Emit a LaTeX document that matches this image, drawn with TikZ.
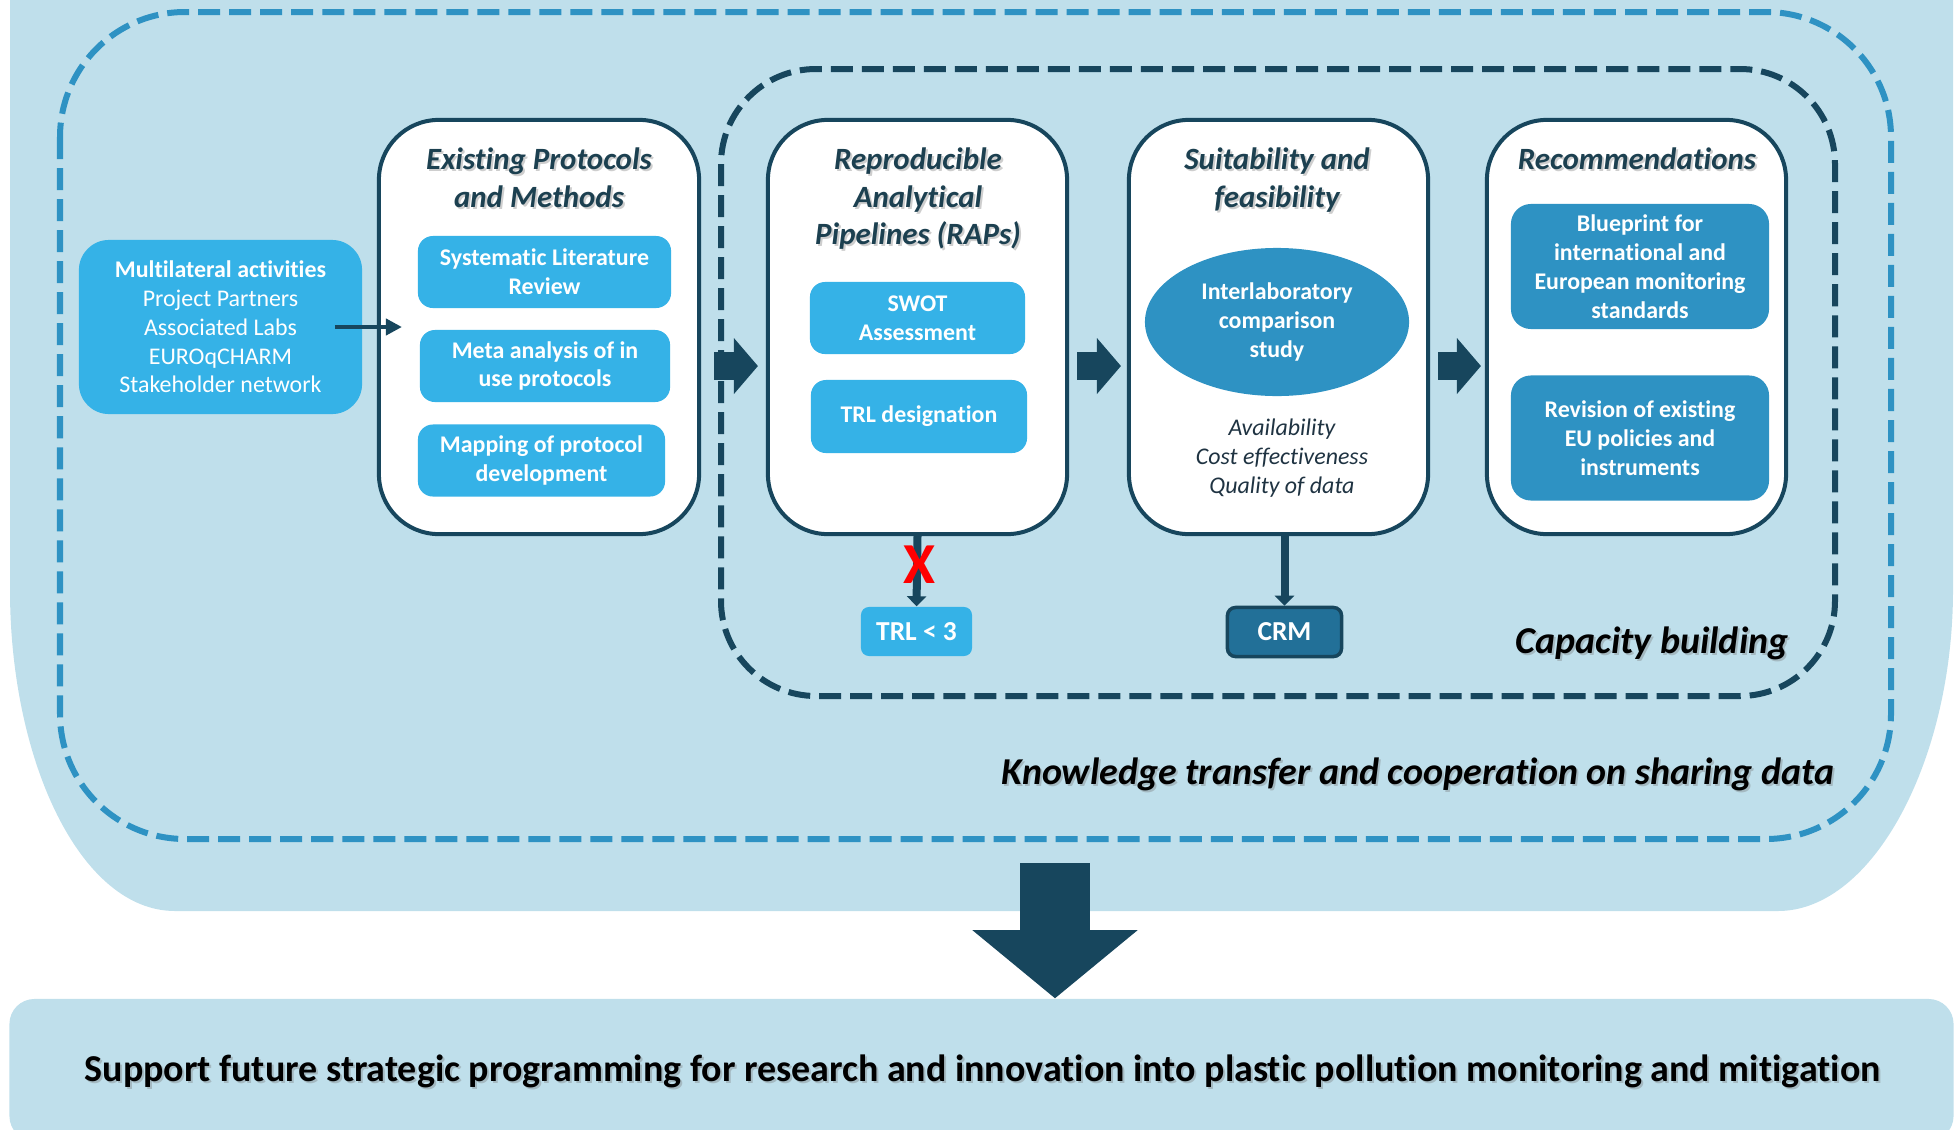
\documentclass[tikz,border=0pt]{standalone}
\usepackage{fontspec}
\setmainfont[Ligatures=NoCommon]{Carlito}
\usetikzlibrary{arrows.meta,shapes.geometric}

\definecolor{panel}{HTML}{BFDFEB}
\definecolor{lightbox}{HTML}{35B2E7}
\definecolor{midblue}{HTML}{2E92C3}
\definecolor{navy}{HTML}{17465D}
\definecolor{crmblue}{HTML}{227098}
\definecolor{headtext}{HTML}{1C4050}
\definecolor{notetext}{HTML}{1F3342}

\newcommand\stagefont{\fontsize{8.8}{10.7}\selectfont\bfseries\itshape}
\newcommand\itemfont{\fontsize{6.8}{8.2}\selectfont\bfseries}
\newcommand\notefont{\fontsize{6.8}{8.2}\selectfont\itshape}
\newcommand\zonefont{\fontsize{10.8}{13}\selectfont\bfseries\itshape}

% text with a soft grey drop shadow: [style]{name}{position}{text}
\newcommand\shadowed[4][]{%
  \node[#1, text=black!55, opacity=0.35, xshift=0.02cm, yshift=-0.02cm] (#2-shadow) at (#3) {#4};
  \node[#1] (#2) at (#3) {#4};}

\tikzset{
  stage/.style={draw=navy, line width=0.04cm, fill=white, rounded corners=0.6cm,
    minimum width=2.99cm, minimum height=4.14cm},
  stagetitle/.style={font=\stagefont, text=headtext, align=center, anchor=north, inner sep=0pt},
  item/.style={fill=lightbox, text=white, rounded corners=0.15cm, align=center,
    font=\itemfont, inner sep=0pt, minimum height=0.72cm},
  result/.style={fill=midblue, text=white, rounded corners=0.2cm, align=center,
    font=\itemfont, inner sep=0pt, minimum width=2.58cm, minimum height=1.25cm},
  zonelabel/.style={font=\zonefont, inner sep=0pt},
  zone/.style={line width=0.06cm, dash pattern=on 0.22cm off 0.09cm},
  flowarrow/.style={navy, line width=0.28cm,
    -{Triangle[length=0.24cm, width=0.56cm, line width=0pt]}},
  thinarrow/.style={navy, line width=0.08cm, -{Triangle[length=0.1cm, width=0.19cm]}},
}

\begin{document}
\begin{tikzpicture}[x=0.01cm, y=-0.01cm]
\useasboundingbox (0,0) rectangle (1957,1130);

% light panel behind the work packages
\fill[panel] (10,-20) -- (10,590) .. controls (10,760) and (80,911) .. (175,911)
  -- (1778,911) .. controls (1873,911) and (1953,760) .. (1953,590) -- (1953,-20) -- cycle;

% dashed frames
\draw[zone, midblue, rounded corners=1.25cm] (60,12) rectangle (1891,839);
\draw[zone, navy, rounded corners=0.95cm] (721,69) rectangle (1835,696);

% goal at the bottom
\node[fill=panel, rounded corners=0.25cm, minimum width=19.43cm, minimum height=1.42cm] (goal) at (981.5,1070) {};
\shadowed[font=\fontsize{10.8}{13}\selectfont\bfseries, inner sep=0pt]{goal-text}{982.5,1071}
  {Support future strategic programming for research and innovation into plastic pollution monitoring and mitigation}

% stages
\node[stage, minimum width=3.20cm] (exist) at (539,327) {};
\node[stage] (rap) at (917.5,327) {};
\node[stage] (suit) at (1278.5,327) {};
\node[stage] (recom) at (1636.5,327) {};

\shadowed[stagetitle]{exist-t}{539,147}{Existing Protocols\\and Methods}
\shadowed[stagetitle]{rap-t}{918,147}{Reproducible\\Analytical\\Pipelines (RAPs)}
\shadowed[stagetitle]{suit-t}{1277,147}{Suitability and\\feasibility}
\shadowed[stagetitle]{recom-t}{1637,147}{Recommendations}

% inputs
\node[item, minimum width=2.83cm, minimum height=1.74cm, rounded corners=0.3cm,
  font=\fontsize{6.8}{8.2}\selectfont] (multi) at (220.5,327)
  {\textbf{Multilateral activities}\\Project Partners\\Associated Labs\\EUROqCHARM\\Stakeholder network};

\node[item, minimum width=2.53cm] (review) at (544.5,272) {Systematic Literature\\Review};
\node[item, minimum width=2.50cm] (meta) at (545,366) {Meta analysis of in\\use protocols};
\node[item, minimum width=2.47cm] (mapping) at (541.5,460.5) {Mapping of protocol\\development};

\node[item, minimum width=2.15cm] (swot) at (917.5,318) {SWOT\\Assessment};
\node[item, minimum width=2.16cm, minimum height=0.73cm] (trl) at (919,416.5) {TRL designation};

\node[ellipse, fill=midblue, text=white, font=\itemfont, align=center, inner sep=0pt,
  minimum width=2.64cm, minimum height=1.48cm] (ilc) at (1277,322) {Interlaboratory\\comparison\\study};
\node[font=\notefont, text=notetext, align=center] (criteria) at (1282,458)
  {Availability\\Cost effectiveness\\Quality of data};

\node[result] (blueprint) at (1640,266.5) {Blueprint for\\international and\\European monitoring\\standards};
\node[result] (revision) at (1640,438) {Revision of existing\\EU policies and\\instruments};

% outcomes below the frame
\node[item, minimum width=1.11cm, minimum height=0.49cm, rounded corners=0.08cm,
  font=\fontsize{7.8}{9}\selectfont\bfseries] (trllow) at (916.5,631.5) {TRL < 3};
\node[draw=navy, line width=0.035cm, fill=crmblue, text=white, rounded corners=0.08cm,
  minimum width=1.14cm, minimum height=0.49cm, inner sep=0pt,
  font=\fontsize{7.8}{9}\selectfont\bfseries] (crm) at (1284.5,632) {CRM};

\shadowed[zonelabel]{capacity}{1652,643}{Capacity building}
\shadowed[zonelabel]{knowledge}{1418,774}{Knowledge transfer and cooperation on sharing data}

% connectors
\draw[thinarrow, line width=0.04cm, -{Triangle[length=0.16cm, width=0.16cm]}]
  ([xshift=-0.28cm]multi.east) -- ([xshift=0.25cm]exist.west);
\draw[flowarrow, shorten <=0.13cm, shorten >=0.08cm] ([yshift=-0.39cm]exist.east) -- ([yshift=-0.39cm]rap.west);
\draw[flowarrow, shorten <=0.08cm, shorten >=0.06cm] ([yshift=-0.39cm]rap.east) -- ([yshift=-0.39cm]suit.west);
\draw[flowarrow, shorten <=0.08cm, shorten >=0.04cm] ([yshift=-0.39cm]suit.east) -- ([yshift=-0.39cm]recom.west);

\draw[thinarrow] (rap.south) -- (trllow.north);
\draw[thinarrow] (crm.north |- suit.south) -- (crm.north);
\node[text=red, font=\fontsize{16.5}{18}\selectfont\bfseries, inner sep=0pt] (reject) at (919.5,565) {X};

\coordinate (handover) at (1055,863);
\draw[navy, line width=0.70cm, -{Triangle[length=0.68cm, width=1.65cm, line width=0pt]}]
  (handover) -- (handover |- goal.north);
\end{tikzpicture}
\end{document}
